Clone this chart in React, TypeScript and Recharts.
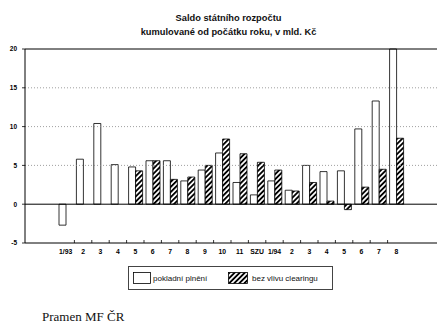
import React from 'react';
import { BarChart, Bar, XAxis, YAxis, ReferenceLine } from 'recharts';

const categories = ['1/93', '2', '3', '4', '5', '6', '7', '8', '9', '10', '11', 'SZU', '1/94', '2', '3', '4', '5', '6', '7', '8'];
const pokladniPlneni = [-2.7, 5.8, 10.4, 5.1, 4.8, 5.6, 5.6, 3.0, 4.4, 6.6, 2.8, 1.2, 3.0, 1.8, 5.0, 4.2, 4.3, 9.7, 13.3, 20.0];
const bezVlivuClearingu = [null, null, null, null, 4.3, 5.6, 3.2, 3.5, 5.0, 8.4, 6.5, 5.4, 4.4, 1.7, 2.8, 0.4, -0.7, 2.2, 4.5, 8.5];
const yTicks = [-5, 0, 5, 10, 15, 20];
const gridValues = [5, 10, 15];
const seriesNames = ['pokladní plnění', 'bez vlivu clearingu'];
const titleLines = ['Saldo státního rozpočtu', 'kumulované od počátku roku, v mld. Kč'];
const sourceText = 'Pramen MF ČR';

const data = categories.map((c, i) => ({
  cat: c,
  pokladni: pokladniPlneni[i],
  bez: bezVlivuClearingu[i],
}));

const W = 446;
const H = 328;
const PLOT_LEFT = 25;
const PLOT_RIGHT = 437;
const PLOT_TOP = 49;
const PLOT_BOTTOM = 243;
const PAD = 32;
const STEP = (PLOT_RIGHT - PLOT_LEFT - 2 * PAD) / categories.length;
const SANS = '"Liberation Sans", Arial, sans-serif';

const XTick = (props: any) => {
  const { x, payload, index } = props;
  const last = index === categories.length - 1;
  return (
    <g>
      {!last && (
        <line x1={x + STEP / 2} x2={x + STEP / 2} y1={PLOT_BOTTOM} y2={PLOT_BOTTOM - 3} stroke="#000" strokeWidth={0.8} />
      )}
      <text x={x} y={PLOT_BOTTOM + 11} textAnchor="middle" fontFamily={SANS} fontWeight="bold" fontSize={6.8} fill="#000">
        {payload.value}
      </text>
    </g>
  );
};

const YTick = (props: any) => {
  const { x, y, payload } = props;
  return (
    <text x={x} y={y + 2.3} textAnchor="end" fontFamily={SANS} fontWeight="bold" fontSize={6.5} fill="#000">
      {payload.value}
    </text>
  );
};

export default function App() {
  return (
    <div style={{ position: 'absolute', left: 0, top: 0, width: W, height: H, background: '#fff' }}>
      <div
        style={{
          position: 'absolute',
          left: 0,
          top: 11,
          width: 457,
          textAlign: 'center',
          fontFamily: SANS,
          fontWeight: 'bold',
          fontSize: 9.3,
          lineHeight: '14px',
          color: '#111',
        }}
      >
        <div>{titleLines[0]}</div>
        <div>{titleLines[1]}</div>
      </div>
      <BarChart
        width={W}
        height={270}
        data={data}
        margin={{ top: PLOT_TOP, right: W - PLOT_RIGHT, bottom: 270 - PLOT_BOTTOM - 20, left: 0 }}
        barGap={0}
        barSize={7}
      >
        <defs>
          <pattern id="hatch" patternUnits="userSpaceOnUse" width={3.6} height={3.6} patternTransform="rotate(45)">
            <rect x={0} y={0} width={3.6} height={3.6} fill="#fff" />
            <line x1={0.9} y1={0} x2={0.9} y2={3.6} stroke="#000" strokeWidth={1.9} />
          </pattern>
        </defs>
        {gridValues.map((v) => (
          <ReferenceLine key={v} y={v} stroke="#888" strokeDasharray="1 2" strokeWidth={0.8} />
        ))}
        <ReferenceLine y={20} stroke="#000" strokeWidth={1} />
        <XAxis
          dataKey="cat"
          interval={0}
          height={20}
          padding={{ left: PAD, right: PAD }}
          axisLine={{ stroke: '#000', strokeWidth: 1 }}
          tickLine={false}
          tick={<XTick />}
        />
        <YAxis
          domain={[-5, 20]}
          ticks={yTicks}
          width={PLOT_LEFT}
          interval={0}
          axisLine={{ stroke: '#000', strokeWidth: 1 }}
          tickLine={{ stroke: '#000', strokeWidth: 0.8 }}
          tickSize={3}
          tickMargin={5}
          tick={<YTick />}
        />
        <YAxis
          yAxisId="right"
          orientation="right"
          domain={[-5, 20]}
          width={0}
          tick={false}
          tickLine={false}
          axisLine={{ stroke: '#000', strokeWidth: 1 }}
        />
        <Bar dataKey="pokladni" name={seriesNames[0]} fill="#fff" stroke="#000" strokeWidth={0.8} isAnimationActive={false} />
        <Bar dataKey="bez" name={seriesNames[1]} fill="url(#hatch)" stroke="#000" strokeWidth={0.8} isAnimationActive={false} />
        <ReferenceLine y={0} stroke="#000" strokeWidth={1} />
      </BarChart>
      <div
        style={{
          position: 'absolute',
          left: 128,
          top: 266,
          width: 205,
          height: 24,
          border: '1px solid #444',
          boxSizing: 'border-box',
          fontFamily: SANS,
          fontSize: 8,
          color: '#111',
        }}
      >
        <svg width={205} height={24} style={{ position: 'absolute', left: -1, top: -1 }}>
          <defs>
            <pattern id="hatch2" patternUnits="userSpaceOnUse" width={3.6} height={3.6} patternTransform="rotate(45)">
              <rect x={0} y={0} width={3.6} height={3.6} fill="#fff" />
              <line x1={0.9} y1={0} x2={0.9} y2={3.6} stroke="#000" strokeWidth={1.9} />
            </pattern>
          </defs>
          <rect x={5.5} y={6.5} width={17} height={11} fill="#fff" stroke="#000" strokeWidth={0.8} />
          <rect x={100.5} y={6.5} width={19} height={11} fill="url(#hatch2)" stroke="#000" strokeWidth={0.8} />
          <text x={25} y={14.7} fontFamily={SANS} fontSize={8} fill="#111">{seriesNames[0]}</text>
          <text x={124} y={14.7} fontFamily={SANS} fontSize={8} fill="#111">{seriesNames[1]}</text>
        </svg>
      </div>
      <div
        style={{
          position: 'absolute',
          left: 42,
          top: 309,
          fontFamily: '"Liberation Serif", "Times New Roman", serif',
          fontSize: 13,
          lineHeight: '16px',
          color: '#111',
        }}
      >
        {sourceText}
      </div>
    </div>
  );
}
